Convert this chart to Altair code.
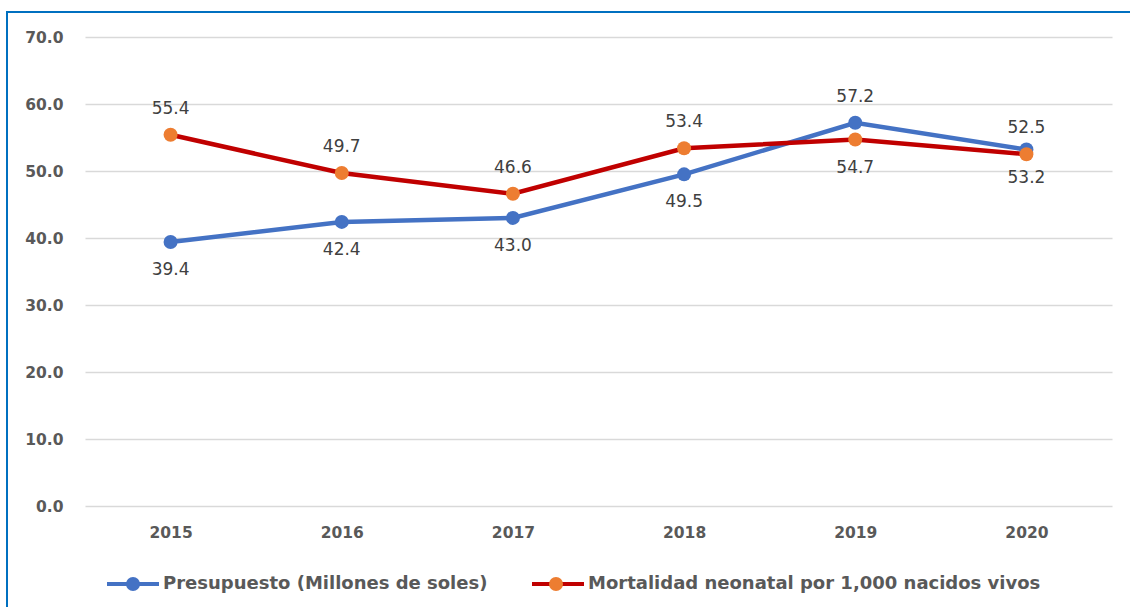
import altair as alt
import pandas as pd

years = ["2015", "2016", "2017", "2018", "2019", "2020"]
presupuesto = [39.4, 42.4, 43.0, 49.5, 57.2, 53.2]
mortalidad = [55.4, 49.7, 46.6, 53.4, 54.7, 52.5]
series_names = ["Presupuesto (Millones de soles)", "Mortalidad neonatal por 1,000 nacidos vivos"]
# which data labels sit above their point (True) or below (False)
presupuesto_label_above = [False, False, False, False, True, False]
mortalidad_label_above = [True, True, True, True, False, True]

rows = []
for name, vals, above in [(series_names[0], presupuesto, presupuesto_label_above),
                          (series_names[1], mortalidad, mortalidad_label_above)]:
    for y, v, a in zip(years, vals, above):
        rows.append({"year": y, "value": v, "series": name, "series_pt": name,
                     "label": f"{v:.1f}", "above": a})
df = pd.DataFrame(rows)

BLUE = "#4472C4"
RED = "#C00000"
ORANGE = "#ED7D31"
AX = "#595959"

x = alt.X("year:O", title=None, sort=years,
          scale=alt.Scale(type="point", padding=0.5),
          axis=alt.Axis(labelAngle=0, labelFont="DejaVu Sans", labelFontWeight="bold",
                        labelFontSize=15.5, labelColor=AX, labelPadding=19,
                        domain=False, ticks=False, grid=False))
y = alt.Y("value:Q", title=None,
          scale=alt.Scale(domain=[0, 70], nice=False),
          axis=alt.Axis(values=[0, 10, 20, 30, 40, 50, 60, 70], format=".1f",
                        labelFont="DejaVu Sans", labelFontWeight="bold", labelFontSize=15.5,
                        labelColor=AX, labelPadding=22, domain=False, ticks=False,
                        grid=True, gridColor="#D9D9D9", gridWidth=1.3))

base = alt.Chart(df)

lines = base.mark_line(strokeWidth=4.5).encode(
    x=x, y=y,
    stroke=alt.Stroke("series:N", sort="descending",
                      scale=alt.Scale(range=[BLUE, RED]),
                      legend=alt.Legend(title=None, orient="none", legendX=20, legendY=519,
                                        direction="horizontal", columns=2, padding=0,
                                        symbolType="stroke", symbolSize=2704,
                                        symbolStrokeWidth=4, labelOffset=2,
                                        columnPadding=36,
                                        labelFont="DejaVu Sans", labelFontWeight="bold",
                                        labelFontSize=18, labelColor=AX, labelLimit=600)),
)

points = base.mark_circle(size=196, opacity=1).encode(
    x=x, y=y,
    fill=alt.Fill("series_pt:N", sort="descending",
                  scale=alt.Scale(range=[BLUE, ORANGE]),
                  legend=alt.Legend(title=None, orient="none", legendX=39, legendY=538,
                                    direction="horizontal", columns=2, padding=0,
                                    symbolType="circle", symbolSize=196,
                                    symbolStrokeWidth=0, labelOffset=44,
                                    columnPadding=361, labelExpr="''",
                                    labelFontSize=18)),
)

text_style = dict(font="DejaVu Sans", fontSize=17, color="#404040")
labels_above = base.transform_filter("datum.above").mark_text(dy=-26, **text_style).encode(
    x=x, y=y, text="label:N")
labels_below = base.transform_filter("!datum.above").mark_text(dy=28, **text_style).encode(
    x=x, y=y, text="label:N")

border = alt.Chart(pd.DataFrame({"b": [0]})).mark_rect(
    fill=None, stroke="#0070C0", strokeWidth=2).encode(
    x=alt.value(-78), x2=alt.value(1100), y=alt.value(-25), y2=alt.value(620))

chart = alt.layer(border, lines, points, labels_above, labels_below).properties(
    width=1027, height=469,
    background="white",
    autosize=alt.AutoSizeParams(type="none"),
    padding={"left": 85, "top": 37, "right": 18, "bottom": 101},
).configure_view(strokeWidth=0, stroke=None)

chart.save("out.html", embed_options={"renderer": "svg", "actions": False})
